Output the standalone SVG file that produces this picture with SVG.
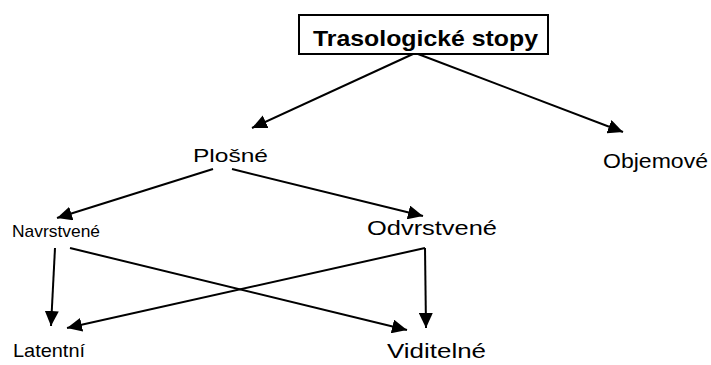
<svg xmlns="http://www.w3.org/2000/svg" width="711" height="365" viewBox="0 0 711 365">
<defs>
<style>
.lbl{font-family:"Liberation Sans",Arial,sans-serif;fill:#000;}
.title{font-family:"Liberation Sans",Arial,sans-serif;font-weight:bold;fill:#000;}
.edge{stroke:#000;stroke-width:2;fill:none;marker-end:url(#ah);}
</style>
<marker id="ah" markerUnits="userSpaceOnUse" markerWidth="16" markerHeight="14" refX="15" refY="7" orient="auto">
<path d="M0,0 L15,7 L0,14 Z" fill="#000"/>
</marker>
</defs>
<rect width="711" height="365" fill="#fff"/>
<g id="edges">
<line class="edge" x1="413" y1="54" x2="252" y2="128"/>
<line class="edge" x1="418" y1="54" x2="623" y2="132"/>
<line class="edge" x1="213" y1="169" x2="57" y2="218"/>
<line class="edge" x1="232" y1="169" x2="423" y2="216"/>
<line class="edge" x1="55" y1="248" x2="51" y2="326"/>
<line class="edge" x1="70" y1="248" x2="407" y2="330"/>
<line class="edge" x1="425" y1="248" x2="67" y2="328"/>
<line class="edge" x1="425" y1="248" x2="426" y2="328"/>
</g>
<g id="n-root">
<rect x="299" y="15" width="249" height="39" fill="#fff" stroke="#000" stroke-width="2"/>
<text class="title" x="313" y="46" font-size="22" textLength="225" lengthAdjust="spacingAndGlyphs">Trasologické stopy</text>
</g>
<g id="n-plosne"><text class="lbl" x="193" y="162" font-size="19" textLength="75" lengthAdjust="spacingAndGlyphs">Plošné</text></g>
<g id="n-objemove"><text class="lbl" x="603" y="168" font-size="21" textLength="105" lengthAdjust="spacingAndGlyphs">Objemové</text></g>
<g id="n-navrstvene"><text class="lbl" x="12" y="237" font-size="17" textLength="88" lengthAdjust="spacingAndGlyphs">Navrstvené</text></g>
<g id="n-odvrstvene"><text class="lbl" x="367" y="235" font-size="20" textLength="130" lengthAdjust="spacingAndGlyphs">Odvrstvené</text></g>
<g id="n-latentni"><text class="lbl" x="13" y="357" font-size="19" textLength="72" lengthAdjust="spacingAndGlyphs">Latentní</text></g>
<g id="n-viditelne"><text class="lbl" x="387" y="358" font-size="21" textLength="99" lengthAdjust="spacingAndGlyphs">Viditelné</text></g>
</svg>
